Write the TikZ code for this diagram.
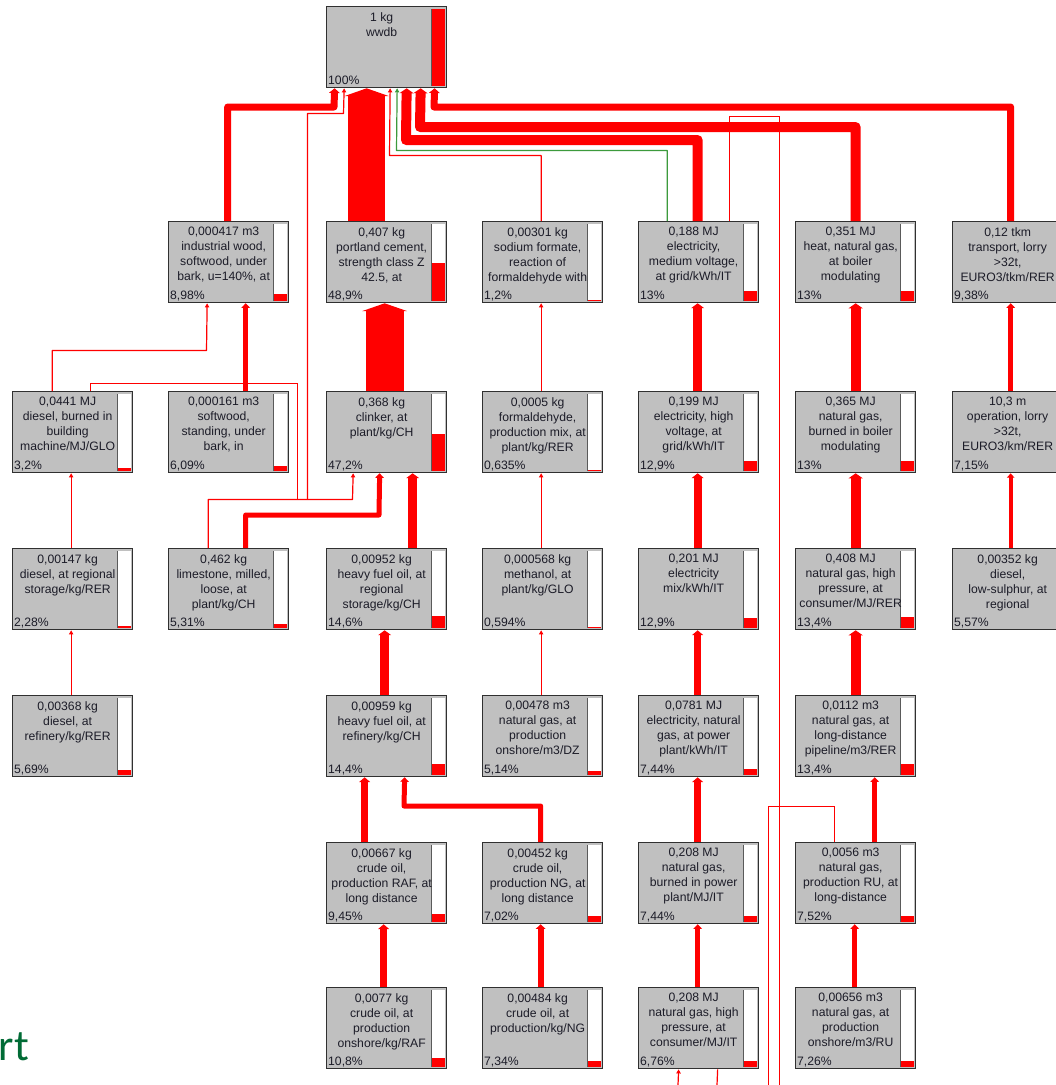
\documentclass[tikz,border=0pt]{standalone}
\usepackage{fontspec}
\setmainfont{Liberation Sans}
\newfontfamily\slidefont{Carlito}
\usetikzlibrary{arrows.meta}
\definecolor{boxgray}{HTML}{C0C0C0}
\definecolor{boxline}{HTML}{303030}
\definecolor{txtdark}{HTML}{1C1C28}
\definecolor{slidegreen}{HTML}{006B35}
\definecolor{lowgreen}{HTML}{3C9A3C}
\definecolor{flowred}{HTML}{FF0000}

\begin{document}
\begin{tikzpicture}[
  x=1pt, y=-1pt,
  font=\fontsize{12.2}{15}\selectfont,
  proc/.style={rectangle, draw=boxline, line width=1.3pt, fill=boxgray,
               minimum width=120pt, minimum height=81pt, inner sep=0pt, anchor=north west,
               path picture={
                 \fill[white] ([xshift=-15pt,yshift=2pt]path picture bounding box.south east)
                   rectangle ([xshift=-2pt,yshift=-2pt]path picture bounding box.north east);
                 \fill[flowred] ([xshift=-15pt,yshift=2pt]path picture bounding box.south east)
                   rectangle ([xshift=-2pt,yshift={2pt+#1*77pt}]path picture bounding box.south east);
                 \draw[boxline!80, line width=0.8pt] ([xshift=-15pt,yshift=2pt]path picture bounding box.south east)
                   -- ([xshift=-15pt,yshift=-2pt]path picture bounding box.north east);
               }},
  desc/.style={anchor=north, xshift=-5pt, yshift=-6pt, align=center, inner sep=0pt, text=txtdark},
  pct/.style={anchor=base west, xshift=2pt, yshift=4pt, inner sep=0pt, text=txtdark},
  flow/.style={draw=flowred, line width=#1, line join=round, -{Triangle[length=4pt 0.1, width=3pt 1.1]}},
  link/.style={draw=flowred, line width=1.2pt},
]
\useasboundingbox (0,0) rectangle (1056,1085);
\clip (0,0) rectangle (1056,1085);
\fill[white] (0,0) rectangle (1056,1085);

% ---- row y-positions (px) ----
\def\ra{221} \def\rb{391} \def\rc{548} \def\rd{695} \def\re{842} \def\rf{987}

% ---- root ----
\node[proc=1, label={[desc]north:{1 kg\\wwdb}}, label={[pct]south west:100\%}] (wwdb) at (326,6) {};

% ---- row 1 ----
\node[proc=0.0898, label={[desc]north:{0,000417 m3\\industrial wood,\\softwood, under\\bark, u=140\%, at}},
      label={[pct]south west:8,98\%}] (indwood) at (168,\ra) {};
\node[proc=0.489, label={[desc]north:{0,407 kg\\portland cement,\\strength class Z\\42.5, at}},
      label={[pct]south west:48,9\%}] (cement) at (326,\ra) {};
\node[proc=0.012, label={[desc]north:{0,00301 kg\\sodium formate,\\reaction of\\formaldehyde with}},
      label={[pct]south west:1,2\%}] (formate) at (482,\ra) {};
\node[proc=0.13, label={[desc]north:{0,188 MJ\\electricity,\\medium voltage,\\at grid/kWh/IT}},
      label={[pct]south west:13\%}] (elecmv) at (638,\ra) {};
\node[proc=0.13, label={[desc]north:{0,351 MJ\\heat, natural gas,\\at boiler\\modulating}},
      label={[pct]south west:13\%}] (heat) at (795,\ra) {};
\node[proc=0.0938, label={[desc]north:{0,12 tkm\\transport, lorry\\>32t,\\EURO3/tkm/RER}},
      label={[pct]south west:9,38\%}] (lorry) at (952,\ra) {};

% ---- row 2 ----
\node[proc=0.032, label={[desc]north:{0,0441 MJ\\diesel, burned in\\building\\machine/MJ/GLO}},
      label={[pct]south west:3,2\%}] (dieselbm) at (12,\rb) {};
\node[proc=0.0609, label={[desc]north:{0,000161 m3\\softwood,\\standing, under\\bark, in}},
      label={[pct]south west:6,09\%}] (softwood) at (168,\rb) {};
\node[proc=0.472, label={[desc]north:{0,368 kg\\clinker, at\\plant/kg/CH}},
      label={[pct]south west:47,2\%}] (clinker) at (326,\rb) {};
\node[proc=0.00635, label={[desc]north:{0,0005 kg\\formaldehyde,\\production mix, at\\plant/kg/RER}},
      label={[pct]south west:0,635\%}] (formald) at (482,\rb) {};
\node[proc=0.129, label={[desc]north:{0,199 MJ\\electricity, high\\voltage, at\\grid/kWh/IT}},
      label={[pct]south west:12,9\%}] (elechv) at (638,\rb) {};
\node[proc=0.13, label={[desc]north:{0,365 MJ\\natural gas,\\burned in boiler\\modulating}},
      label={[pct]south west:13\%}] (gasboil) at (795,\rb) {};
\node[proc=0.0715, label={[desc]north:{10,3 m\\operation, lorry\\>32t,\\EURO3/km/RER}},
      label={[pct]south west:7,15\%}] (oplorry) at (952,\rb) {};

% ---- row 3 ----
\node[proc=0.0228, label={[desc]north:{0,00147 kg\\diesel, at regional\\storage/kg/RER}},
      label={[pct]south west:2,28\%}] (dieselst) at (12,\rc) {};
\node[proc=0.0531, label={[desc]north:{0,462 kg\\limestone, milled,\\loose, at\\plant/kg/CH}},
      label={[pct]south west:5,31\%}] (limestone) at (168,\rc) {};
\node[proc=0.146, label={[desc]north:{0,00952 kg\\heavy fuel oil, at\\regional\\storage/kg/CH}},
      label={[pct]south west:14,6\%}] (hforeg) at (326,\rc) {};
\node[proc=0.00594, label={[desc]north:{0,000568 kg\\methanol, at\\plant/kg/GLO}},
      label={[pct]south west:0,594\%}] (methanol) at (482,\rc) {};
\node[proc=0.129, label={[desc]north:{0,201 MJ\\electricity\\mix/kWh/IT}},
      label={[pct]south west:12,9\%}] (elecmix) at (638,\rc) {};
\node[proc=0.134, label={[desc]north:{0,408 MJ\\natural gas, high\\pressure, at\\consumer/MJ/RER}},
      label={[pct]south west:13,4\%}] (gashp) at (795,\rc) {};
\node[proc=0.0557, label={[desc]north:{0,00352 kg\\diesel,\\low-sulphur, at\\regional}},
      label={[pct]south west:5,57\%}] (diesells) at (952,\rc) {};

% ---- row 4 ----
\node[proc=0.0569, label={[desc]north:{0,00368 kg\\diesel, at\\refinery/kg/RER}},
      label={[pct]south west:5,69\%}] (dieselref) at (12,\rd) {};
\node[proc=0.144, label={[desc]north:{0,00959 kg\\heavy fuel oil, at\\refinery/kg/CH}},
      label={[pct]south west:14,4\%}] (hforef) at (326,\rd) {};
\node[proc=0.0514, label={[desc]north:{0,00478 m3\\natural gas, at\\production\\onshore/m3/DZ}},
      label={[pct]south west:5,14\%}] (gasdz) at (482,\rd) {};
\node[proc=0.0744, label={[desc]north:{0,0781 MJ\\electricity, natural\\gas, at power\\plant/kWh/IT}},
      label={[pct]south west:7,44\%}] (elecgas) at (638,\rd) {};
\node[proc=0.134, label={[desc]north:{0,0112 m3\\natural gas, at\\long-distance\\pipeline/m3/RER}},
      label={[pct]south west:13,4\%}] (gaspipe) at (795,\rd) {};

% ---- row 5 ----
\node[proc=0.0945, label={[desc]north:{0,00667 kg\\crude oil,\\production RAF, at\\long distance}},
      label={[pct]south west:9,45\%}] (cruderaf) at (326,\re) {};
\node[proc=0.0702, label={[desc]north:{0,00452 kg\\crude oil,\\production NG, at\\long distance}},
      label={[pct]south west:7,02\%}] (crudeng) at (482,\re) {};
\node[proc=0.0744, label={[desc]north:{0,208 MJ\\natural gas,\\burned in power\\plant/MJ/IT}},
      label={[pct]south west:7,44\%}] (gaspower) at (638,\re) {};
\node[proc=0.0752, label={[desc]north:{0,0056 m3\\natural gas,\\production RU, at\\long-distance}},
      label={[pct]south west:7,52\%}] (gasru) at (795,\re) {};

% ---- row 6 ----
\node[proc=0.108, label={[desc]north:{0,0077 kg\\crude oil, at\\production\\onshore/kg/RAF}},
      label={[pct]south west:10,8\%}] (crudeprodraf) at (326,\rf) {};
\node[proc=0.0734, label={[desc]north:{0,00484 kg\\crude oil, at\\production/kg/NG}},
      label={[pct]south west:7,34\%}] (crudeprodng) at (482,\rf) {};
\node[proc=0.0676, label={[desc]north:{0,208 MJ\\natural gas, high\\pressure, at\\consumer/MJ/IT}},
      label={[pct]south west:6,76\%}] (gashpit) at (638,\rf) {};
\node[proc=0.0726, label={[desc]north:{0,00656 m3\\natural gas, at\\production\\onshore/m3/RU}},
      label={[pct]south west:7,26\%}] (gasprodru) at (795,\rf) {};

% ---- slide text cut at the left edge ----
\node[font=\slidefont\fontsize{44}{44}\selectfont, text=slidegreen, anchor=base east, inner sep=0pt]
      (slidetxt) at (29,1060) {rt};

% ---- free ends leaving the frame ----
\coordinate (outA) at (779.5,1085);
\coordinate (outB) at (768.5,1085);
\coordinate (outC) at (678,1085);
\coordinate (outD) at (717,1085);
\coordinate (jdiesel) at (297.5,499.5);
\coordinate (jroot) at (307.5,499.5);

% ---- into the root ----
\draw[flow=7pt] ([xshift=-1pt]indwood.north) |- (334,107) -- ([xshift=-52pt]wwdb.south);
\draw[flow=37pt] ([xshift=-20pt]cement.north) -- ([xshift=-20pt]wwdb.south);
\draw[flow=1.2pt] ([xshift=-1.5pt]formate.north) |- (389.5,155.5) -- ([xshift=3.5pt]wwdb.south);
\draw[flow=1.2pt, draw=lowgreen] ([xshift=-31.5pt]elecmv.north) |- (396.5,150.5) -- ([xshift=10.5pt]wwdb.south);
\draw[flow=10pt] ([xshift=-1pt]elecmv.north) |- (406,140) -- ([xshift=20pt]wwdb.south);
\draw[flow=10pt] (heat.north) |- (420,127) -- ([xshift=34pt]wwdb.south);
\draw[flow=7pt] ([xshift=-2pt]lorry.north) |- (434,107) -- ([xshift=48pt]wwdb.south);
\draw[link] ([xshift=30.5pt]elecmv.north) |- (779.5,116.5) -- (outA);

% ---- row 2 -> row 1 ----
\draw[flow=1.2pt] ([xshift=-20.5pt]dieselbm.north) |- (206.5,350.5) -- ([xshift=-21.5pt]indwood.south);
\draw[flow=5pt] ([xshift=17pt]softwood.north) -- ([xshift=17pt]indwood.south);
\draw[flow=38pt] ([xshift=-2pt]clinker.north) -- ([xshift=-2pt]cement.south);
\draw[flow=1.2pt] ([xshift=-1.5pt]formald.north) -- ([xshift=-1.5pt]formate.south);
\draw[flow=9pt] ([xshift=-1pt]elechv.north) -- ([xshift=-1pt]elecmv.south);
\draw[flow=10pt] (gasboil.north) -- (heat.south);
\draw[flow=5pt] ([xshift=-2pt]oplorry.north) -- ([xshift=-2pt]lorry.south);

% ---- thin diesel net round the clinker ----
\draw[link] ([xshift=17.5pt]dieselbm.north) |- (297.5,383.5) -- (jdiesel);
\draw[flow=1.2pt] (jroot) |- (343.5,113.5) -- ([xshift=-42.5pt]wwdb.south);
\draw[flow=1.2pt] ([xshift=-20.5pt]limestone.north) |- (352.5,499.5) -- ([xshift=-33.5pt]clinker.south);

% ---- row 3 -> row 2 ----
\draw[flow=1.2pt] ([xshift=-1.5pt]dieselst.north) -- ([xshift=-1.5pt]dieselbm.south);
\draw[flow=5pt] ([xshift=17pt]limestone.north) |- (379,515) -- ([xshift=-7pt]clinker.south);
\draw[flow=9pt] ([xshift=26pt]hforeg.north) -- ([xshift=26pt]clinker.south);
\draw[flow=1.2pt] ([xshift=-1.5pt]methanol.north) -- ([xshift=-1.5pt]formald.south);
\draw[flow=8pt] ([xshift=-1pt]elecmix.north) -- ([xshift=-1pt]elechv.south);
\draw[flow=10pt] (gashp.north) -- (gasboil.south);
\draw[flow=4pt] ([xshift=-2pt]diesells.north) -- ([xshift=-2pt]oplorry.south);

% ---- row 4 -> row 3 ----
\draw[flow=1.2pt] ([xshift=-1.5pt]dieselref.north) -- ([xshift=-1.5pt]dieselst.south);
\draw[flow=9pt] ([xshift=-2pt]hforef.north) -- ([xshift=-2pt]hforeg.south);
\draw[flow=1.2pt] ([xshift=-1.5pt]gasdz.north) -- ([xshift=-1.5pt]methanol.south);
\draw[flow=7pt] ([xshift=-1pt]elecgas.north) -- ([xshift=-1pt]elecmix.south);
\draw[flow=10pt] (gaspipe.north) -- (gashp.south);

% ---- row 5 -> row 4 ----
\draw[flow=7pt] ([xshift=-22pt]cruderaf.north) -- ([xshift=-22pt]hforef.south);
\draw[flow=5pt] ([xshift=-2pt]crudeng.north) |- (404,806) -- ([xshift=18pt]hforef.south);
\draw[flow=7pt] ([xshift=-1pt]gaspower.north) -- ([xshift=-1pt]elecgas.south);
\draw[flow=5pt] ([xshift=19pt]gasru.north) -- ([xshift=19pt]gaspipe.south);
\draw[link] ([xshift=-21.5pt]gasru.north) |- (768.5,806.5) -- (outB);

% ---- row 6 -> row 5 ----
\draw[flow=7pt] ([xshift=-3pt]crudeprodraf.north) -- ([xshift=-3pt]cruderaf.south);
\draw[flow=6pt] ([xshift=-2pt]crudeprodng.north) -- ([xshift=-2pt]crudeng.south);
\draw[flow=5pt] ([xshift=-1pt]gashpit.north) -- ([xshift=-1pt]gaspower.south);
\draw[flow=5pt] ([xshift=-1pt]gasprodru.north) -- ([xshift=-1pt]gasru.south);

% ---- from below the frame ----
\draw[flow=1.2pt] (outC) -- ([xshift=-20pt]gashpit.south);
\draw[link] (outD) -- ([xshift=19pt]gashpit.south);
\end{tikzpicture}
\end{document}
